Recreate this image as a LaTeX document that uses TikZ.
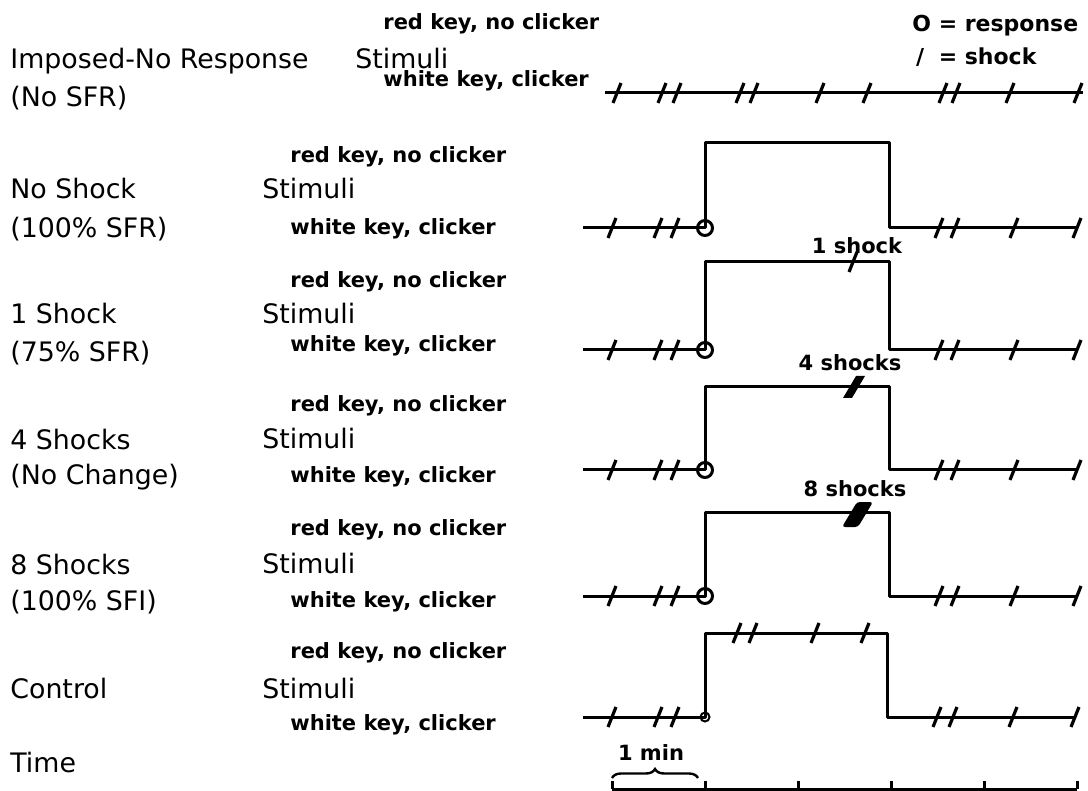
\documentclass[tikz,border=0pt]{standalone}
\usepackage{fontspec}
\setmainfont{DejaVu Sans}
\usetikzlibrary{decorations.pathreplacing}
\tikzset{
grouplabel/.style={anchor=base west, inner sep=0pt, font=\fontsize{13.4}{15}\selectfont},
keylabel/.style={anchor=base west, inner sep=0pt, font=\bfseries\fontsize{10.5}{12}\selectfont},
shocklabel/.style={anchor=base, inner sep=0pt, font=\bfseries\fontsize{10.5}{12}\selectfont},
trace/.style={line width=1.5pt, line join=round},
shocktick/.style={line width=1.6pt}
}

\begin{document}
\begin{tikzpicture}[x=0.5pt,y=-0.5pt]
\useasboundingbox (0,0) rectangle (1088,791);

% left column
\node[grouplabel] (imp) at (10,68.5) {Imposed-No Response};
\node[grouplabel] (imp2) at (10,107) {(No SFR)};
\node[grouplabel] (noshk) at (10,198.5) {No Shock};
\node[grouplabel] (noshk2) at (10,238) {(100\% SFR)};
\node[grouplabel] (oneshk) at (10,323.5) {1 Shock};
\node[grouplabel] (oneshk2) at (10,362) {(75\% SFR)};
\node[grouplabel] (fourshk) at (10,449.5) {4 Shocks};
\node[grouplabel] (fourshk2) at (10,484) {(No Change)};
\node[grouplabel] (eightshk) at (10,574.5) {8 Shocks};
\node[grouplabel] (eightshk2) at (10,610) {(100\% SFI)};
\node[grouplabel] (ctrl) at (10,698.5) {Control};
\node[grouplabel] (time) at (10,772.5) {Time};

% stimuli labels
\node[grouplabel] (stim0) at (355,68.5) {Stimuli};
\node[keylabel] (red0) at (383,30) {red key, no clicker};
\node[keylabel] (white0) at (383,87) {white key, clicker};
\foreach \i/\r/\s/\w in {1/163/198.5/235,2/288/323.5/352,3/412/448.5/482,4/535/573.5/607,5/658/698.5/730}{
  \node[grouplabel] (stim\i) at (262,\s) {Stimuli};
  \node[keylabel] (red\i) at (290,\r) {red key, no clicker};
  \node[keylabel] (white\i) at (290,\w) {white key, clicker};
}

% legend
\node[keylabel, font=\bfseries\fontsize{11}{13}\selectfont] (legresp) at (912,32) {O = response};
\node[keylabel, font=\bfseries\fontsize{11}{13}\selectfont] (legshk) at (912,65) {\rlap{\,/}\phantom{O} = shock};

% imposed, no response
\draw[trace] (605,93) -- (1083,93);
\foreach \x in {617,662,677,740,754,820,867,943,956,1010,1078}
  \draw[shocktick] (\x-4,93+10) -- (\x+4,93-10);

% response rows
\foreach \b/\t in {228/143,350/262,470/387,596/512}{
  \draw[trace] (583,\b) -- (705,\b) -- (705,\t) -- (889,\t) -- (889,\b) -- (1078,\b);
  \draw[trace] (705,\b) circle[radius=7.5];
  \foreach \x in {612,658,675,939,955,1014,1077}
    \draw[shocktick] (\x-4,\b+10) -- (\x+4,\b-10);
}
\draw[shocktick] (853-4,262+10) -- (853+4,262-10);
\fill (843,398) -- (852,398) -- (865,376) -- (856,376) -- cycle;
\fill[rounded corners=1.5pt] (842,527) -- (858,527) -- (873,502) -- (857,502) -- cycle;
\node[shocklabel] (lab1) at (857,254) {1 shock};
\node[shocklabel] (lab4) at (850,371) {4 shocks};
\node[shocklabel] (lab8) at (855,496) {8 shocks};

% control
\draw[trace] (583,717) -- (705,717) -- (705,633) -- (887,633) -- (887,717) -- (1076,717);
\draw[line width=1pt] (705,717) circle[radius=4.5];
\foreach \x in {612,658,675,937,953,1013,1075}
  \draw[shocktick] (\x-4,717+10) -- (\x+4,717-10);
\foreach \x in {737,753,815,865}
  \draw[shocktick] (\x-4,633+10) -- (\x+4,633-10);

% time scale
\node[shocklabel] (minlab) at (651,760) {1 min};
\draw[line width=1.2pt, decorate, decoration={brace, amplitude=4.5pt}] (612,778) -- (698,778);
\draw[trace] (612,789) -- (1077,789);
\foreach \x in {612,705,798,891,984,1077}
  \draw[trace] (\x,789) -- (\x,781);
\end{tikzpicture}
\end{document}
